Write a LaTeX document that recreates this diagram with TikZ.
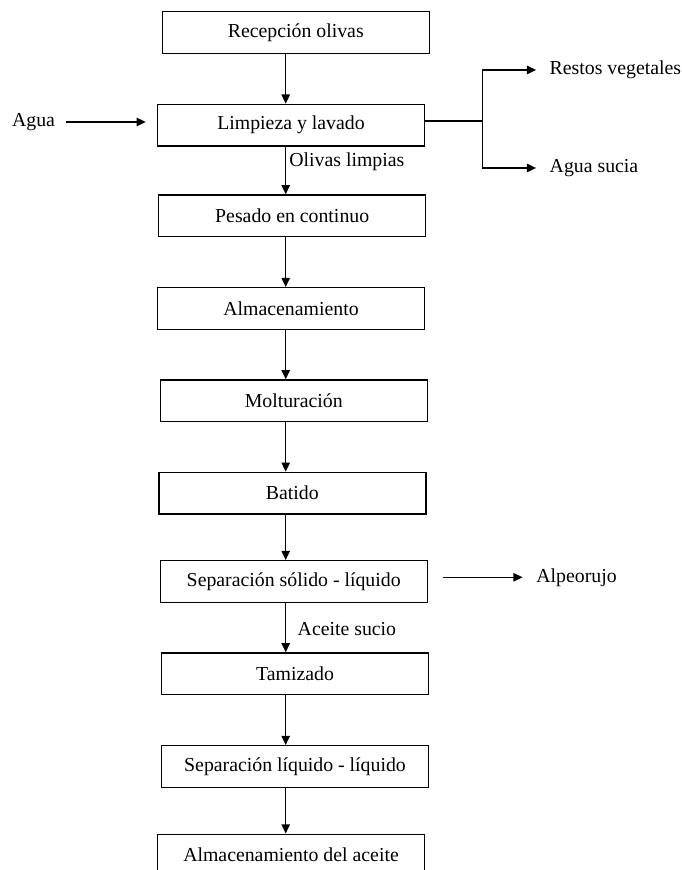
\documentclass[tikz,border=0pt]{standalone}
\usepackage{fontspec}
\setmainfont{Liberation Serif}
\usetikzlibrary{arrows.meta}
\tikzset{
  stage/.style={draw, line width=0.7pt, minimum width=133.5pt, minimum height=20.8pt,
    inner sep=0pt, font=\fontsize{9.9}{12}\selectfont},
  tag/.style={anchor=west, inner sep=0pt, font=\fontsize{9.9}{12}\selectfont},
  flow/.style={line width=0.7pt, -{Triangle[length=4.6pt,width=4.2pt]}},
  link/.style={line width=0.7pt}
}
\begin{document}
\begin{tikzpicture}[x=0.5pt,y=-0.5pt]
\useasboundingbox (0,0) rectangle (681,870);
\clip (0,0) rectangle (681,870);
% main line of stages
\node[stage] (recep) at (295.8,32.5) {Recepción olivas};
\node[stage] (limp) at (291,125.2) {Limpieza y lavado};
\node[stage] (pesado) at (292.2,215.8) {Pesado en continuo};
\node[stage] (almac) at (291,308.5) {Almacenamiento};
\node[stage] (moltu) at (293.7,400.8) {Molturación};
\node[stage] (batido) at (292.3,493.2) {Batido};
\node[stage] (sepsl) at (293.7,581.5) {Separación sólido - líquido};
\node[stage] (tamiz) at (295,673.8) {Tamizado};
\node[stage] (sepll) at (295,766.5) {Separación líquido - líquido};
\node[stage] (almaceite) at (291,855) {Almacenamiento del aceite};
\coordinate (axis) at (285.7,0);
\foreach \a/\b in {recep/limp, limp/pesado, pesado/almac, almac/moltu,
  moltu/batido, batido/sepsl, sepsl/tamiz, tamiz/sepll, sepll/almaceite}
  \draw[flow] (\a.south -| axis) -- (\b.north -| axis);
\node[tag] (olivas) at (289,162) {Olivas limpias};
\node[tag] (sucio) at (297.3,629) {Aceite sucio};
% water in, wastes out
\node[tag] (agua) at (11.7,122) {Agua};
\draw[flow, shorten <=5.2pt, shorten >=5.5pt] (agua.east) -- (agua.east -| limp.west);
\node[tag] (restos) at (549.3,70) {Restos vegetales};
\node[tag] (aguasucia) at (549.3,168) {Agua sucia};
\coordinate (split) at (482.7,121);
\draw[link] (limp.east |- split) -- (split);
\draw[flow, shorten >=6.6pt] (split) |- (restos.west);
\draw[flow, shorten >=6.6pt] (split) |- (aguasucia.west);
\node[tag] (alpe) at (536,577.3) {Alpeorujo};
\draw[flow, shorten <=7.5pt, shorten >=6.7pt] (sepsl.east |- alpe.west) -- (alpe.west);
\end{tikzpicture}
\end{document}
